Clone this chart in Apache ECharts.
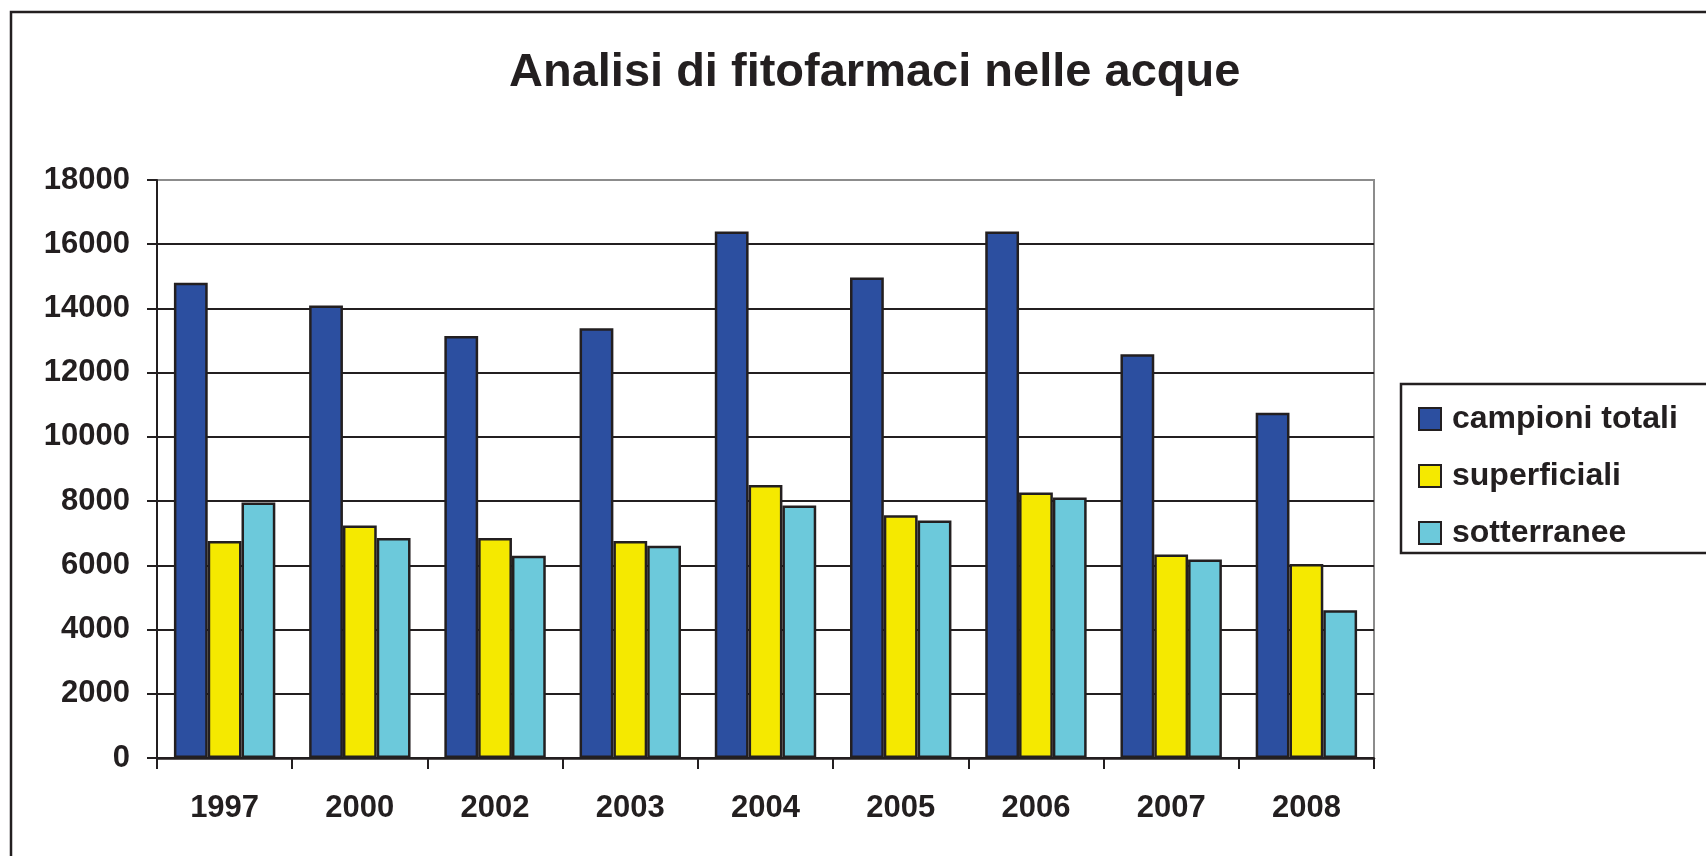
<!DOCTYPE html>
<html>
<head>
<meta charset="utf-8">
<title>Analisi di fitofarmaci nelle acque</title>
<script src="https://cdn.jsdelivr.net/npm/echarts@6/dist/echarts.min.js"></script>
<style>
  html, body { margin: 0; padding: 0; background: #fff; }
  #chart { width: 1706px; height: 856px; }
</style>
</head>
<body>
<div id="chart"></div>
<script>
// dati
var anni = ['1997', '2000', '2002', '2003', '2004', '2005', '2006', '2007', '2008'];
var campioniTotali = [14800, 14090, 13140, 13380, 16400, 14960, 16400, 12570, 10750];
var superficiali = [6760, 7240, 6850, 6760, 8500, 7560, 8270, 6340, 6040];
var sotterranee = [7960, 6850, 6300, 6610, 7860, 7400, 8110, 6180, 4600];

var nomiSerie = ['campioni totali', 'superficiali', 'sotterranee'];
var coloriSerie = ['#2c4fa0', '#f5e900', '#6cc9db'];
var scuro = '#231f20';
var font = 'Liberation Sans, Arial, sans-serif';

var myChart = echarts.init(document.getElementById('chart'));

// griglia: ultima linea (18000) grigia come il bordo dell'area
var coloriGriglia = [];
for (var i = 0; i < 9; i++) coloriGriglia.push(scuro);
coloriGriglia.push('#8c8c8c');

function serie(nome, dati, colore) {
    return {
        name: nome,
        type: 'bar',
        data: dati,
        barGap: '0%',
        barCategoryGap: '25%',
        itemStyle: { color: colore, borderColor: scuro, borderWidth: 2.5 }
    };
}

var option = {
    animation: false,
    backgroundColor: '#fff',
    textStyle: { fontFamily: font },
    title: {
        text: 'Analisi di fitofarmaci nelle acque',
        left: 504,
        top: 45,
        textStyle: { fontSize: 47, fontWeight: 'bold', color: scuro, fontFamily: font }
    },
    graphic: [
        {   // cornice esterna
            type: 'rect',
            shape: { x: 11, y: 12, width: 2000, height: 2000 },
            style: { fill: 'none', stroke: scuro, lineWidth: 2.5 },
            silent: true
        },
        {   // cornice legenda
            type: 'rect',
            shape: { x: 1401, y: 384, width: 600, height: 169 },
            style: { fill: '#fff', stroke: scuro, lineWidth: 2.5 },
            silent: true,
            z: -1
        }
    ],
    legend: {
        orient: 'vertical',
        left: 1413,
        top: 398,
        itemWidth: 22,
        itemHeight: 22,
        itemGap: 25,
        icon: 'rect',
        data: nomiSerie,
        itemStyle: { borderColor: scuro, borderWidth: 2 },
        textStyle: {
            fontSize: 32, fontWeight: 'bold', color: scuro, fontFamily: font,
            padding: [0, 0, 0, 6]
        }
    },
    grid: {
        left: 157,
        right: 332,
        top: 180,
        bottom: 98,
        show: true,
        backgroundColor: '#fff',
        borderColor: '#8c8c8c',
        borderWidth: 2
    },
    xAxis: {
        type: 'category',
        data: anni,
        axisLine: { lineStyle: { color: scuro, width: 2.5 } },
        axisTick: { show: true, length: 11, lineStyle: { color: scuro, width: 2 } },
        axisLabel: { fontSize: 31, fontWeight: 'bold', color: scuro, margin: 35, fontFamily: font }
    },
    yAxis: {
        type: 'value',
        min: 0,
        max: 18000,
        interval: 2000,
        axisLine: { show: true, lineStyle: { color: scuro, width: 2 } },
        axisTick: { show: true, length: 10, lineStyle: { color: scuro, width: 2 } },
        axisLabel: {
            fontSize: 31, fontWeight: 'bold', color: scuro, margin: 27, fontFamily: font,
            formatter: function (v) { return String(v); }
        },
        splitLine: { show: true, lineStyle: { color: coloriGriglia, width: 2 } }
    },
    series: [
        serie(nomiSerie[0], campioniTotali, coloriSerie[0]),
        serie(nomiSerie[1], superficiali, coloriSerie[1]),
        serie(nomiSerie[2], sotterranee, coloriSerie[2])
    ]
};

myChart.setOption(option);
</script>
</body>
</html>
